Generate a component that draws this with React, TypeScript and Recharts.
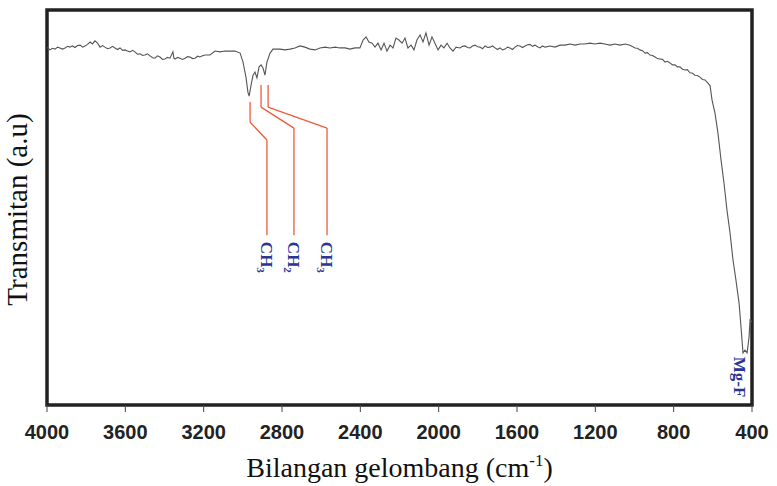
import React from "react";
import {
  LineChart,
  Line,
  XAxis,
  YAxis,
  ReferenceArea,
  ReferenceLine,
  ReferenceDot,
} from "recharts";

// Wavenumber (cm-1) samples of the FTIR trace, high to low
const wavenumbers = [
  4000, 3995, 3985, 3972, 3959, 3946, 3934, 3921, 3908, 3895, 3883, 3870, 3857, 3844, 3831, 3818,
  3806, 3793, 3780, 3768, 3755, 3742, 3729, 3716, 3704, 3691, 3678, 3665, 3653, 3640, 3627, 3614,
  3602, 3589, 3576, 3563, 3551, 3538, 3525, 3512, 3500, 3487, 3474, 3461, 3449, 3436, 3423, 3410,
  3397, 3385, 3372, 3357, 3352, 3346, 3333, 3321, 3308, 3295, 3282, 3270, 3257, 3244, 3231, 3219,
  3206, 3193, 3168, 3142, 3117, 3091, 3066, 3040, 3014, 2999, 2984, 2974,
  2968, 2958, 2948, 2938, 2928, 2917, 2907, 2897, 2887, 2877, 2861, 2846, 2810, 2785, 2759, 2734,
  2708, 2683, 2657, 2631, 2606, 2580, 2555, 2529, 2504, 2478, 2453, 2427, 2402, 2386, 2371, 2356,
  2340, 2325, 2310, 2294, 2279, 2264, 2248, 2233, 2218, 2203, 2187, 2172, 2157, 2141, 2126, 2111,
  2095, 2080, 2065, 2049, 2034, 2019, 2003, 1988, 1973, 1957, 1942, 1927, 1911, 1891, 1878, 1866,
  1853, 1840, 1827, 1814, 1801, 1789, 1776, 1763, 1750, 1738, 1725, 1712, 1700, 1687, 1674, 1661,
  1648, 1636, 1623, 1610, 1598, 1585, 1572, 1559, 1546, 1534, 1521, 1508, 1495, 1483, 1470, 1457,
  1431, 1406, 1380, 1355, 1329, 1304, 1278, 1253, 1227, 1202, 1176, 1151, 1125, 1100, 1074, 1048,
  1023, 997, 985, 972, 959, 946, 934, 921, 908, 895, 883, 870, 857, 844, 832, 819,
  806, 793, 781, 768, 755, 742, 730, 717, 704, 691, 679, 666, 653, 640, 625,
  614, 604, 589, 574, 558, 543, 528, 512, 497, 482, 466, 456, 446, 436, 425, 415,
  410, 400,
];

// Transmittance (a.u.) at each wavenumber above
const transmittance = [
  90.4, 90.4, 89.9, 90.3, 90.1, 90.6, 90.4, 90.1, 90.4, 90.8, 90.6, 90.9, 90.5, 91.0, 91.1, 90.6,
  90.9, 91.3, 91.9, 91.4, 92.2, 91.6, 90.6, 91.0, 90.6, 90.2, 90.4, 90.8, 90.4, 90.0, 90.4, 89.8,
  89.9, 89.6, 89.4, 89.8, 89.4, 88.8, 88.9, 88.5, 88.6, 88.9, 88.4, 87.9, 87.8, 88.4, 88.1, 87.5,
  87.6, 88.0, 87.8, 89.4, 87.8, 87.6, 88.0, 87.8, 87.5, 87.8, 88.2, 88.1, 87.7, 87.8, 88.3, 88.1,
  88.4, 88.6, 88.6, 89.6, 89.4, 89.6, 89.6, 89.6, 89.1, 86.8, 83.0, 79.2,
  78.2, 81.0, 83.5, 84.3, 82.8, 85.6, 86.1, 85.3, 83.5, 86.8, 89.1, 90.1, 90.1, 89.9, 90.1, 90.4,
  90.9, 90.6, 90.1, 89.9, 90.4, 90.6, 90.4, 90.6, 90.4, 90.4, 90.1, 90.4, 90.4, 92.4, 93.2, 91.9,
  91.6, 90.6, 91.6, 89.9, 91.6, 89.6, 91.1, 90.4, 92.9, 92.4, 91.6, 92.9, 90.4, 91.1, 89.9, 92.4,
  93.7, 91.9, 94.2, 91.1, 93.2, 91.6, 89.9, 91.1, 90.4, 91.6, 90.4, 89.6, 90.6, 90.4, 90.8, 90.9,
  90.5, 90.4, 90.9, 91.1, 90.7, 90.6, 90.2, 90.9, 90.5, 90.6, 90.9, 90.4, 90.0, 90.4, 89.9, 90.1,
  90.6, 90.4, 90.0, 90.6, 91.0, 90.9, 90.5, 90.9, 91.2, 91.3, 90.8, 91.1, 90.7, 90.4, 90.9, 90.6,
  90.9, 90.6, 91.1, 91.1, 91.4, 91.1, 91.4, 91.4, 91.6, 91.4, 91.6, 91.4, 91.1, 91.4, 91.1, 91.4,
  91.1, 90.4, 90.3, 89.9, 89.7, 89.1, 89.2, 88.6, 88.5, 88.1, 87.7, 87.6, 87.5, 86.8, 87.0, 86.6,
  86.1, 86.1, 85.6, 85.6, 85.0, 84.8, 84.9, 84.1, 84.0, 83.5, 83.4, 83.0, 82.4, 82.3, 81.5,
  80.8, 77.2, 73.9, 68.9, 62.0, 56.2, 49.4, 43.5, 36.7, 31.6, 25.8, 19.7, 13.2, 13.9, 13.2, 17.2,
  21.5, 21.0,
];

const xTicks = [4000, 3600, 3200, 2800, 2400, 2000, 1600, 1200, 800, 400];

// Annotation leader lines: [wavenumber, transmittance] vertices
const leader1 = [[2963, 76.7], [2963, 71.6], [2877, 67.1], [2877, 43.0]];
const leader2 = [[2907, 81.0], [2907, 75.4], [2739, 70.1], [2739, 43.0]];
const leader3 = [[2871, 81.0], [2871, 75.4], [2570, 70.1], [2570, 43.0]];
const leaders = [leader1, leader2, leader3];

// Peak labels: text, subscript, anchor wavenumber, anchor transmittance
const peakLabels = [
  { main: "CH", sub: "3", wn: 2905, t: 41.3 },
  { main: "CH", sub: "2", wn: 2767, t: 41.3 },
  { main: "CH", sub: "3", wn: 2599, t: 41.3 },
  { main: "Mg-F", sub: "", wn: 490, t: 12.2 },
];

const data = wavenumbers.map((w, i) => ({ wn: w, t: transmittance[i] }));

const RED = "#ef5a3c";
const BLUE = "#2a3596";

const makeLabelShape = (main: string, sub: string) => (props: any) => {
  const { cx, cy } = props;
  return (
    <text
      x={cx}
      y={cy}
      transform={`rotate(90, ${cx}, ${cy})`}
      textAnchor="start"
      fontFamily="'Liberation Serif', 'Times New Roman', serif"
      fontWeight="bold"
      fontSize={17}
      fill={BLUE}
    >
      {main}
      {sub ? (
        <tspan fontSize={11} dy={4}>
          {sub}
        </tspan>
      ) : null}
    </text>
  );
};

const XLabel = (props: any) => {
  const vb = props.viewBox || { x: 47, y: 405, width: 705, height: 81 };
  const cx = vb.x + vb.width / 2;
  return (
    <text
      x={cx}
      y={vb.y + 72}
      textAnchor="middle"
      fontFamily="'Liberation Serif', 'Times New Roman', serif"
      fontSize={28}
      fill="#111"
    >
      Bilangan gelombang (cm
      <tspan fontSize={17} dy={-11}>
        -1
      </tspan>
      <tspan dy={11}>)</tspan>
    </text>
  );
};

const YLabel = (props: any) => {
  const vb = props.viewBox || { x: 0, y: 10, width: 47, height: 395 };
  const x = vb.x + 27;
  const y = vb.y + vb.height / 2 + 2;
  return (
    <text
      x={x}
      y={y}
      transform={`rotate(-90, ${x}, ${y})`}
      textAnchor="middle"
      fontFamily="'Liberation Serif', 'Times New Roman', serif"
      fontSize={29}
      fill="#111"
    >
      Transmitan (a.u)
    </text>
  );
};

export default function App() {
  return (
    <div style={{ position: "absolute", left: 0, top: 0, width: 777, height: 486, background: "#fff" }}>
      <LineChart
        width={777}
        height={486}
        data={data}
        margin={{ top: 10, right: 25, bottom: 0, left: 0 }}
      >
        <XAxis
          dataKey="wn"
          type="number"
          domain={[400, 4000]}
          reversed
          ticks={xTicks}
          interval={0}
          allowDataOverflow
          axisLine={false}
          tickLine={{ stroke: "#444", strokeWidth: 1 }}
          tickSize={7}
          tickMargin={13}
          height={81}
          tick={{
            fontFamily: "'Liberation Sans', Arial, sans-serif",
            fontWeight: "bold",
            fontSize: 20,
            fill: "#222",
          }}
          label={<XLabel />}
        />
        <YAxis
          type="number"
          domain={[0, 100]}
          allowDataOverflow
          width={47}
          tick={false}
          tickLine={false}
          axisLine={false}
          label={<YLabel />}
        />
        {leaders.map((pts, li) =>
          pts.slice(0, -1).map((p, i) => (
            <ReferenceLine
              key={`l${li}-${i}`}
              segment={[
                { x: p[0], y: p[1] },
                { x: pts[i + 1][0], y: pts[i + 1][1] },
              ]}
              stroke={RED}
              strokeWidth={1.3}
              ifOverflow="visible"
            />
          ))
        )}
        <Line
          type="linear"
          dataKey="t"
          stroke="#555"
          strokeWidth={1.1}
          dot={false}
          isAnimationActive={false}
        />
        {peakLabels.map((l, i) => (
          <ReferenceDot
            key={`pl${i}`}
            x={l.wn}
            y={l.t}
            r={0}
            ifOverflow="visible"
            shape={makeLabelShape(l.main, l.sub)}
          />
        ))}
        <ReferenceArea
          x1={4000}
          x2={400}
          y1={0}
          y2={100}
          fill="none"
          fillOpacity={0}
          stroke="#222"
          strokeWidth={3.5}
          ifOverflow="visible"
        />
      </LineChart>
    </div>
  );
}
